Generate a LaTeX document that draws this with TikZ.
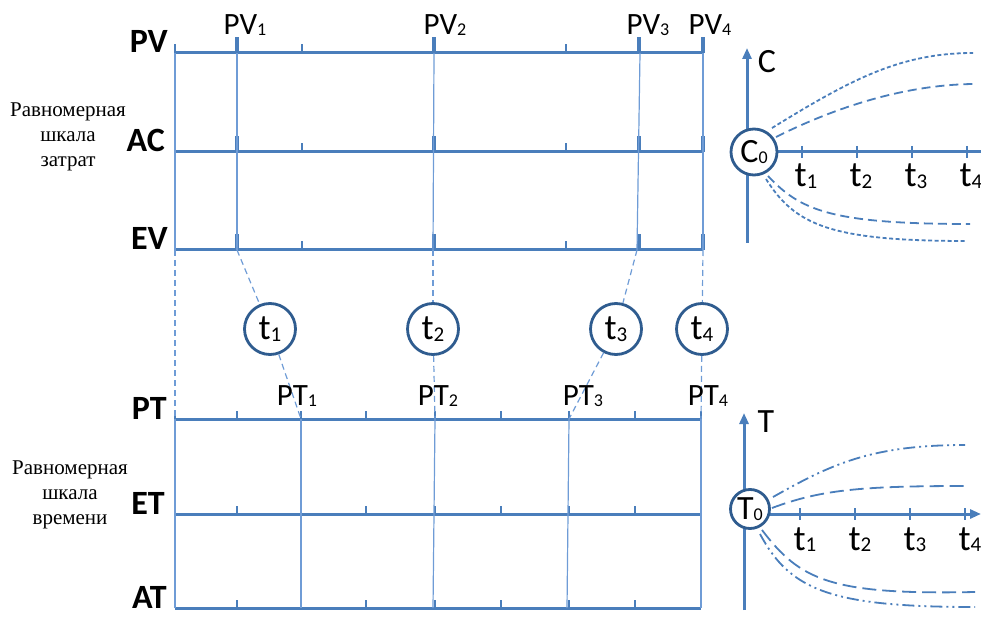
\documentclass[tikz,border=0pt]{standalone}
\usepackage{fontspec}
\setmainfont{Carlito}
\newfontfamily\rusfont{Liberation Serif}
\usetikzlibrary{arrows.meta}
\definecolor{lineblue}{HTML}{4A7EBB}
\definecolor{connblue}{HTML}{6F9CD6}
\definecolor{circblue}{HTML}{2F5C8F}
\newcommand\sbs[1]{\raisebox{-1pt}{\fontsize{18}{18}\selectfont #1}}
\newcommand\sbsL[1]{\raisebox{-1.5pt}{\fontsize{21}{21}\selectfont #1}}
\begin{document}
\begin{tikzpicture}[x=1pt,y=-1pt,
  axisln/.style={draw=lineblue,line width=3pt},
  bigtick/.style={draw=lineblue,line width=4pt},
  smalltick/.style={draw=lineblue,line width=2.5pt},
  conn/.style={draw=connblue,line width=1.2pt},
  dconn/.style={conn,dash pattern=on 6pt off 4pt},
  tcirc/.style={circle,draw=circblue,line width=2.8pt,fill=white,inner sep=0pt,minimum size=51pt,font=\fontsize{36}{36}\selectfont},
  axlbl/.style={font=\bfseries\fontsize{34}{34}\selectfont,anchor=base east,inner sep=0pt},
  ptlbl/.style={font=\fontsize{31}{31}\selectfont,anchor=base,inner sep=0pt},
  rus/.style={font=\rusfont\fontsize{21}{25}\selectfont,align=center},
  tlbl/.style={font=\fontsize{36}{36}\selectfont,anchor=base,inner sep=0pt},
  curve/.style={draw=lineblue,line width=1.8pt},
  arr/.style={-{Triangle[length=11pt,width=9pt]}}
]
\useasboundingbox (0,0) rectangle (981,617);

% ---------- cost scale (top) ----------
\foreach \n/\y in {PV/53,AC/152,EV/250}{
  \coordinate (\n a) at (175,\y);
  \coordinate (\n b) at (703,\y);
  \draw[axisln] (\n a) -- (\n b);
  \foreach \x in {237,434,639,703}{\draw[bigtick] (\x,\y) -- (\x,\y-16);}
  \foreach \x in {175,302,566}{\draw[smalltick] (\x,\y) -- (\x,\y-9);}
}
\coordinate (pv0) at (175,53);  \coordinate (ev0) at (175,250);
\coordinate (pv1) at (237,53);  \coordinate (ev1) at (237,250);
\coordinate (pv2) at (434,53);  \coordinate (ev2) at (433,250);
\coordinate (pv3) at (640,53);  \coordinate (ev3) at (637,250);
\coordinate (pv4) at (703,53);  \coordinate (ev4) at (703,250);
\foreach \i in {0,...,4}{\draw[conn] (pv\i) -- (ev\i);}

% ---------- time scale (bottom) ----------
\foreach \n/\y in {PT/419,ET/514,AT/608}{
  \coordinate (\n a) at (175,\y);
  \coordinate (\n b) at (701,\y);
  \draw[axisln] (\n a) -- (\n b);
  \foreach \x in {175,237,301,366,435,501,569,635,701}{\draw[smalltick] (\x,\y) -- (\x,\y-8);}
}
\coordinate (pt0) at (175,419);  \coordinate (at0) at (175,608);
\coordinate (pt1) at (301,419);  \coordinate (at1) at (301,608);
\coordinate (pt2) at (435,419);  \coordinate (at2) at (433,608);
\coordinate (pt3) at (569,419);  \coordinate (at3) at (567,608);
\coordinate (pt4) at (701,419);  \coordinate (at4) at (701,608);
\foreach \i in {0,...,4}{\draw[conn] (pt\i) -- (at\i);}

% ---------- middle circles ----------
\node[tcirc] (t1) at (270,329) {t\sbsL{1}};
\node[tcirc] (t2) at (433,329) {t\sbsL{2}};
\node[tcirc] (t3) at (616,329) {t\sbsL{3}};
\node[tcirc] (t4) at (702,329) {t\sbsL{4}};
\draw[dconn] (ev0) -- (pt0);
\foreach \i in {1,...,4}{
  \draw[dconn] (ev\i) -- (t\i);
  \draw[dconn] (t\i) -- (pt\i);
}

% ---------- row labels ----------
\node[axlbl] (lPV) at (168,53) {PV};
\node[axlbl] (lAC) at (165,152) {AC};
\node[axlbl] (lEV) at (168,250) {EV};
\node[axlbl] (lPT) at (167,419) {PT};
\node[axlbl] (lET) at (165,514) {ET};
\node[axlbl] (lAT) at (167,608) {AT};

\node[ptlbl] (lPV1) at (245,35) {PV\sbs{1}};
\node[ptlbl] (lPV2) at (445,35) {PV\sbs{2}};
\node[ptlbl] (lPV3) at (648,35) {PV\sbs{3}};
\node[ptlbl] (lPV4) at (710,35) {PV\sbs{4}};
\node[ptlbl] (lPT1) at (297,405) {PT\sbs{1}};
\node[ptlbl] (lPT2) at (438,405) {PT\sbs{2}};
\node[ptlbl] (lPT3) at (583,405) {PT\sbs{3}};
\node[ptlbl] (lPT4) at (708,405) {PT\sbs{4}};

\node[rus] (rcost) at (68,137) {Равномерная\\шкала\\затрат};
\node[rus] (rtime) at (70,495) {Равномерная\\шкала\\времени};

% ---------- cost chart (top right) ----------
\coordinate (cyb) at (747,243);
\coordinate (cyt) at (747,48);
\coordinate (corig) at (747,152);
\coordinate (cxr) at (981,152);
\draw[axisln,arr] (cyb) -- (cyt);
\draw[axisln] (corig) -- (cxr);
\node[tlbl,anchor=center,font=\fontsize{34}{34}\selectfont] (Clbl) at (767,62) {C};
\node[tcirc,minimum size=46pt,font=\fontsize{34}{34}\selectfont] (C0) at (754,152) {C\sbs{0}};
\foreach \x/\k in {802/1,857/2,912/3,967/4}{
  \draw[smalltick] (\x,146) -- (\x,158);
  \node[tlbl] (ct\k) at (\x+4,187) {t\sbsL{\k}};
}
\draw[curve,dash pattern=on 4pt off 2.5pt] (772,128) .. controls (850,80) and (900,53) .. (973,53);
\draw[curve,dash pattern=on 9pt off 5pt] (776,137) .. controls (830,110) and (900,85) .. (973,84);
\draw[curve,dash pattern=on 9pt off 5pt] (768,176) .. controls (800,210) and (830,224) .. (970,224);
\draw[curve,dash pattern=on 4pt off 2.5pt] (766,179) .. controls (795,225) and (830,241) .. (967,241);

% ---------- time chart (bottom right) ----------
\coordinate (tyb) at (744,610);
\coordinate (tyt) at (744,413);
\coordinate (torig) at (744,514);
\coordinate (txr) at (981,514);
\draw[axisln,arr] (tyb) -- (tyt);
\draw[axisln,arr] (torig) -- (txr);
\node[tlbl,anchor=center,font=\fontsize{34}{34}\selectfont] (Tlbl) at (766,422) {T};
\node[tcirc,minimum size=39pt,font=\fontsize{34}{34}\selectfont] (T0) at (750,509) {T\sbs{0}};
\foreach \x/\k in {800/1,855/2,910/3,965/4}{
  \draw[smalltick] (\x,508) -- (\x,520);
  \node[tlbl] (tt\k) at (\x+5,550) {t\sbsL{\k}};
}
\draw[curve,dash pattern=on 12pt off 4pt on 2pt off 4pt on 2pt off 4pt] (773,497) .. controls (830,465) and (870,445) .. (965,445);
\draw[curve,dash pattern=on 14pt off 6pt] (772,508) .. controls (820,490) and (860,486) .. (965,486);
\draw[curve,dash pattern=on 14pt off 6pt] (762,530) .. controls (800,580) and (830,595) .. (975,592);
\draw[curve,dash pattern=on 12pt off 4pt on 2pt off 4pt on 2pt off 4pt] (760,534) .. controls (790,590) and (830,607) .. (975,607);
\end{tikzpicture}
\end{document}
